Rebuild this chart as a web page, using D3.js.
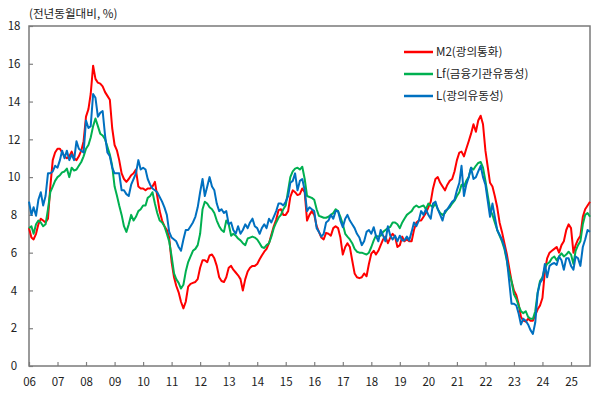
<!DOCTYPE html>
<html>
<head>
<meta charset="utf-8">
<script src="https://cdn.jsdelivr.net/npm/d3@7"></script>
<style>
  body { margin: 0; background: #fff; }
  text { font-family: "Noto Sans CJK KR", "Noto Sans", sans-serif; fill: #222; }
</style>
</head>
<body>
<div id="chart"></div>
<script>
// monthly, Jan 2006 .. Sep 2025 (전년동월대비, %)
var m2 = [
  7.3, 6.8, 6.7, 7.0, 7.5, 7.8, 7.7, 7.6, 7.8, 9.5, 10.9, 11.3,
  11.5, 11.5, 11.3, 11.1, 11.0, 11.1, 11.35, 11.0, 10.9, 11.1, 11.4, 11.9,
  13.2, 13.6, 14.4, 15.9, 15.2, 15.0, 14.95, 14.8, 14.5, 14.3, 14.1, 12.6,
  11.7, 11.4, 10.9, 10.2, 9.9, 9.75, 9.9, 10.1, 10.2, 10.4, 9.5, 9.4,
  9.4, 9.3, 9.4, 9.4, 9.5, 9.75, 9.0, 8.2, 7.7, 7.4, 7.2, 6.8,
  5.5, 4.7, 4.25, 3.9, 3.4, 3.05, 3.4, 4.2, 4.35, 4.4, 4.45, 4.6,
  5.2, 5.6, 5.6, 5.5, 5.85, 5.9, 5.7, 5.3, 4.7, 4.5, 4.45, 4.7,
  5.2, 5.3, 5.1, 4.95, 4.8, 4.6, 4.0, 4.6, 5.0, 5.2, 5.3, 5.3,
  5.4, 5.65, 5.85, 6.05, 6.2, 6.5, 6.95, 7.4, 7.75, 8.25, 8.3, 8.0,
  8.0, 8.2, 8.95, 9.3, 9.2, 9.05, 9.1, 9.4, 9.2, 7.7, 8.0, 8.2,
  8.0, 7.4, 7.1, 6.8, 6.7, 7.05, 7.0, 6.9, 7.3, 7.4, 7.3, 6.8,
  5.9, 6.3, 6.5, 6.3, 5.6, 4.9, 4.7, 4.65, 4.7, 4.9, 4.75, 5.4,
  5.95, 6.1, 5.9, 6.1, 6.4, 6.7, 6.85, 6.5, 6.8, 7.0, 6.85, 6.3,
  6.4, 6.85, 6.6, 6.7, 6.6, 6.6, 7.2, 7.6, 7.7, 7.7, 7.9, 8.1,
  8.4, 8.7, 9.4, 9.9, 10.0, 9.7, 9.5, 9.3, 9.6, 9.8, 9.9, 10.3,
  10.9, 11.3, 11.35, 11.1, 11.5, 11.9, 12.3, 12.8, 12.4, 13.0, 13.25, 12.8,
  11.4, 10.5, 9.7, 9.5, 9.0, 8.4, 7.6, 7.1, 6.5, 5.95, 5.2, 4.5,
  4.0, 3.75, 3.3, 2.6, 2.4, 2.35, 2.5, 2.4, 2.4, 2.7, 3.0, 3.2,
  3.6, 5.0, 5.7, 6.0, 6.1, 6.2, 6.3, 6.0, 6.4, 6.6, 7.2, 7.5,
  7.3, 6.0, 6.4, 6.7, 6.9, 7.9, 8.3, 8.5, 8.7
];

var lf = [
  7.3, 7.4, 7.0, 7.5, 7.7, 7.6, 7.4, 7.5, 8.3, 9.2, 9.5, 9.8,
  10.0, 10.1, 10.25, 10.3, 10.45, 10.0, 10.5, 10.35, 10.4, 10.6, 10.8, 11.1,
  11.5, 11.7, 12.1, 12.7, 13.1, 12.7, 12.3, 12.2, 12.0, 11.6, 11.2, 10.6,
  9.5, 9.0, 8.5, 8.0, 7.4, 7.1, 7.5, 8.0, 7.7, 7.9, 8.2, 8.3,
  8.5, 8.5, 8.9, 9.0, 9.2, 8.6, 8.1, 7.7, 7.6, 7.4, 7.0, 6.6,
  5.8, 4.9, 4.6, 4.4, 4.1, 4.3, 5.0, 5.5, 5.8, 6.1, 6.2, 6.4,
  7.0, 8.3, 8.7, 8.6, 8.4, 8.3, 8.1, 7.7, 7.4, 7.2, 7.1, 7.7,
  7.5, 6.9, 7.0, 6.9, 6.75, 6.65, 6.5, 6.4, 6.75, 6.8, 6.85, 6.8,
  6.7, 6.5, 6.3, 6.25, 6.4, 6.5, 6.85, 7.3, 7.6, 7.85, 8.0, 8.3,
  8.5, 9.3, 10.0, 10.3, 10.45, 10.5, 10.4, 10.55, 9.9, 9.0, 8.95, 8.9,
  8.8, 8.3, 7.95, 7.9, 7.85, 7.85, 7.9, 8.0, 8.1, 8.3, 8.2, 7.9,
  7.5, 7.0, 6.85, 6.7, 6.5, 6.2, 6.05, 6.0, 6.0, 5.95, 5.9, 6.0,
  6.3, 6.65, 6.9, 6.85, 6.9, 7.1, 7.2, 7.3, 7.37, 7.6, 7.6, 7.5,
  7.3, 7.6, 7.8, 8.0, 8.1, 8.2, 8.4, 8.5, 8.4, 8.45, 8.5, 8.3,
  8.6, 8.5, 8.4, 8.6, 8.3, 8.1, 8.0, 8.1, 8.3, 8.4, 8.6, 8.75,
  9.0, 9.2, 9.6, 9.5, 9.8, 10.0, 10.5, 10.4, 10.6, 10.75, 10.8, 10.5,
  9.8, 9.0, 8.3, 8.0, 7.6, 7.2, 6.9, 6.6, 6.2, 5.6, 4.9, 4.5,
  3.8, 3.55, 3.2, 2.9, 2.8, 2.9, 2.6, 2.5, 2.5, 2.9, 3.9, 4.5,
  4.7, 5.2, 5.4, 5.5, 5.7, 5.8, 5.6, 5.8, 5.96, 5.8, 5.9, 6.05,
  5.9, 5.4, 6.1, 6.4, 6.6, 7.5, 8.0, 8.1, 7.9
];

var l = [
  8.7, 8.0, 8.4, 7.95, 8.8, 9.2, 8.5, 9.0, 10.2, 10.2, 10.3, 10.6,
  10.5, 10.9, 11.4, 11.0, 11.4, 10.9, 11.2, 10.9, 11.9, 11.5, 11.4, 11.3,
  13.0, 12.6, 12.7, 14.4, 14.2, 13.2, 13.4, 13.5, 12.2, 11.3, 11.1, 10.5,
  10.2, 10.2, 10.2, 9.3, 9.3, 9.1, 9.0, 9.6, 9.9, 10.2, 10.9, 10.4,
  10.5, 10.4, 9.9, 9.6, 9.4, 9.3, 9.2, 8.95, 8.7, 8.4, 8.0, 7.1,
  6.8, 6.7, 6.6, 6.3, 6.1, 6.7, 7.2, 7.2, 7.4, 7.6, 7.9, 8.4,
  9.2, 9.9, 9.0, 9.5, 10.0, 9.5, 9.3, 8.6, 8.2, 8.3, 8.1, 8.2,
  7.5, 7.6, 7.2, 7.0, 7.4, 7.0, 7.2, 7.5, 7.3, 7.6, 7.8, 7.4,
  7.3, 7.0, 7.3, 7.5, 7.3, 7.8, 7.6, 7.9, 8.2, 8.6, 8.6, 8.5,
  8.7, 9.0, 9.7, 9.8, 10.2, 9.3, 9.8, 9.9, 9.3, 8.2, 8.4, 8.3,
  8.2, 7.3, 7.1, 6.85, 7.0, 7.6, 7.7, 8.0, 7.8, 8.2, 8.2, 7.7,
  7.35, 7.8, 8.0, 7.7, 7.5, 7.3, 7.0, 6.8, 6.4, 6.6, 7.1, 7.2,
  7.0, 7.35, 6.9, 6.6, 7.2, 6.9, 6.6, 7.4, 6.9, 6.7, 6.9, 6.6,
  6.9, 6.65, 6.65, 6.85, 6.65, 7.1, 7.6, 7.4, 7.7, 8.2, 8.0, 8.3,
  8.0, 7.8, 8.6, 8.7, 8.3, 8.0, 7.7, 8.2, 8.3, 8.5, 8.7, 8.8,
  9.3, 9.7, 10.6, 9.0, 9.6, 10.0, 10.5, 9.9, 10.0, 10.3, 10.6, 10.0,
  9.6, 8.7, 7.9, 8.6, 7.9, 7.2, 6.95, 6.7, 6.3, 5.7, 4.5, 3.3,
  3.3, 3.2, 2.8, 2.2, 2.5, 2.4, 2.2, 1.9, 1.7, 2.3, 3.85, 4.4,
  4.6, 5.4, 4.7, 5.3, 5.4, 5.45, 5.35, 5.8, 5.6, 5.1, 5.7, 5.7,
  5.3, 5.1, 5.8, 5.7, 5.3, 6.3, 6.7, 7.2, 7.1
];

var yearTicks = d3.range(2006, 2026);
var yTicks = d3.range(0, 19, 2);
var seriesNames = ["M2(광의통화)", "Lf(금융기관유동성)", "L(광의유동성)"];
var seriesColors = ["#ff0000", "#00b050", "#0070c0"];

var months = d3.timeMonth.range(new Date(2006, 0, 1), new Date(2025, 9, 1));

var margin = {top: 26, right: 10, bottom: 28, left: 29},
    width = 600 - margin.left - margin.right,
    height = 394 - margin.top - margin.bottom;

var x = d3.scaleTime()
    .domain([months[0], months[months.length - 1]])
    .range([0, width]);
var y = d3.scaleLinear().domain([0, 18]).range([height, 0]);

var svg = d3.select("#chart").append("svg")
    .attr("width", 600)
    .attr("height", 394)
    .append("g")
    .attr("transform", "translate(" + margin.left + "," + margin.top + ")");

// x axis, ticks pointing up into the plot
var xAxis = svg.append("g")
    .attr("transform", "translate(0," + height + ")")
    .call(d3.axisBottom(x)
        .tickValues(yearTicks.map(function(yr) { return new Date(yr, 0, 1); }))
        .tickFormat(d3.timeFormat("%y"))
        .tickSize(-4)
        .tickPadding(12));
xAxis.select(".domain").remove();
xAxis.selectAll("line").attr("stroke", "#808080").attr("stroke-width", 1.2);
xAxis.selectAll("text").style("font-size", "11.5px");

// y axis
var yAxis = svg.append("g")
    .call(d3.axisLeft(y)
        .tickValues(yTicks)
        .tickSize(-4));
yAxis.select(".domain").remove();
yAxis.selectAll("line").attr("stroke", "#808080").attr("stroke-width", 1.2);
yAxis.selectAll("text")
    .attr("x", -15)
    .attr("text-anchor", "middle")
    .style("font-size", "11.5px");

// frame
svg.append("rect")
    .attr("x", 0)
    .attr("y", 0)
    .attr("width", width)
    .attr("height", height)
    .attr("fill", "none")
    .attr("stroke", "#7a7a7a")
    .attr("stroke-width", 1.5);

var line = d3.line()
    .x(function(d, i) { return x(months[i]); })
    .y(function(d) { return y(d); });

[m2, lf, l].forEach(function(s, i) {
    svg.append("path")
        .datum(s)
        .attr("fill", "none")
        .attr("stroke", seriesColors[i])
        .attr("stroke-width", 2)
        .attr("stroke-linejoin", "round")
        .attr("d", line);
});

// unit label
svg.append("text")
    .attr("x", 0)
    .attr("y", -8)
    .style("font-size", "11.6px")
    .text("(전년동월대비, %)");

// legend
var legend = svg.append("g")
    .attr("transform", "translate(375,26)");
seriesNames.forEach(function(name, i) {
    var row = legend.append("g").attr("transform", "translate(0," + (i * 22) + ")");
    row.append("line")
        .attr("x1", 0).attr("x2", 29)
        .attr("y1", 0).attr("y2", 0)
        .attr("stroke", seriesColors[i])
        .attr("stroke-width", 2.5);
    row.append("text")
        .attr("x", 32)
        .attr("y", 0)
        .attr("dy", "0.35em")
        .style("font-size", "11.6px")
        .text(name);
});
</script>
</body>
</html>
